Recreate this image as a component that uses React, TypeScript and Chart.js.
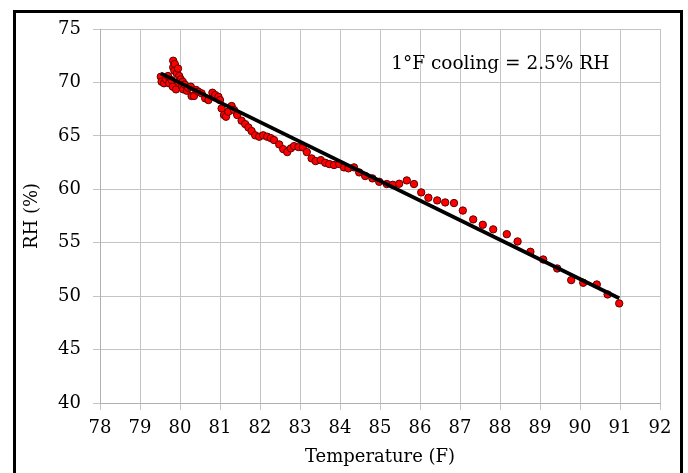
import React, { useEffect, useRef } from 'react';
import { Chart, registerables } from 'chart.js';

Chart.register(...registerables);

// Measured series: temperature (°F) and relative humidity (%)
const temperatureF = [
  79.52, 79.54, 79.6, 79.65, 79.7, 79.73, 79.79, 79.82, 79.83, 79.83, 79.86, 79.87, 79.9, 79.92,
  79.95, 79.98, 79.98, 80.02, 80.05, 80.07, 80.08, 80.12, 80.17, 80.2, 80.27, 80.29, 80.35, 80.4,
  80.46, 80.54, 80.63, 80.71, 80.81, 80.88, 80.96, 81.0, 81.04, 81.1, 81.15, 81.21, 81.29, 81.35,
  81.43, 81.54, 81.63, 81.71, 81.79, 81.88, 81.98, 82.08, 82.18, 82.27, 82.35, 82.48, 82.58, 82.68,
  82.77, 82.85, 82.96, 83.07, 83.17, 83.29, 83.39, 83.52, 83.63, 83.73, 83.85, 83.98, 84.1, 84.21,
  84.35, 84.48, 84.63, 84.81, 84.98, 85.17, 85.32, 85.48, 85.67, 85.85, 86.03, 86.21, 86.43, 86.63,
  86.85, 87.07, 87.33, 87.57, 87.83, 88.17, 88.44, 88.76, 89.08, 89.43, 89.78, 90.08, 90.42, 90.69,
  90.98,
];
const rhPercent = [
  70.53, 70.07, 69.92, 70.29, 70.6, 69.92, 70.22, 69.6, 72.03, 71.41, 71.1, 71.72, 69.35, 70.85,
  71.3, 70.6, 69.92, 70.29, 69.6, 70.07, 69.35, 69.8, 69.22, 69.5, 69.6, 68.73, 68.73, 69.3,
  69.13, 68.98, 68.51, 68.35, 69.04, 68.82, 68.66, 68.35, 67.57, 66.95, 66.79, 67.26, 67.79, 67.42,
  66.95, 66.42, 66.1, 65.79, 65.45, 65.05, 64.92, 65.05, 64.92, 64.79, 64.61, 64.2, 63.76, 63.48,
  63.83, 64.04, 63.95, 63.92, 63.48, 62.89, 62.64, 62.73, 62.48, 62.36, 62.27, 62.36, 62.05, 61.96,
  62.05, 61.58, 61.24, 61.02, 60.7, 60.49, 60.42, 60.52, 60.83, 60.49, 59.71, 59.21, 58.96, 58.77,
  58.71, 58.01, 57.18, 56.68, 56.25, 55.8, 55.12, 54.15, 53.43, 52.59, 51.5, 51.25, 51.09, 50.16,
  49.32,
];

// Linear trend line endpoints
const trendTemperatureF = [79.52, 90.98];
const trendRh = [70.85, 49.8];

const xMin = 78;
const xMax = 92;
const yMin = 40;
const yMax = 75;
const yStep = 5;

const xTitle = 'Temperature (F)';
const yTitle = 'RH (%)';
const annotationText = '1°F cooling = 2.5% RH';
const annotationAt = { x: 85.28, y: 71.3 };

const FONT = '"DejaVu Serif", "Liberation Serif", serif';

export default function App() {
  const ref = useRef<HTMLCanvasElement | null>(null);

  useEffect(() => {
    const canvas = ref.current;
    if (!canvas) return;

    const annotationPlugin = {
      id: 'annotationText',
      afterDatasetsDraw(chart: any) {
        const { ctx, scales } = chart;
        const px = scales.x.getPixelForValue(annotationAt.x);
        const py = scales.y.getPixelForValue(annotationAt.y);
        ctx.save();
        ctx.font = `18.5px ${FONT}`;
        ctx.fillStyle = '#000';
        ctx.textAlign = 'left';
        ctx.textBaseline = 'alphabetic';
        ctx.fillText(annotationText, px, py);
        ctx.restore();
      },
    };

    const chart = new Chart(canvas, {
      type: 'scatter',
      data: {
        datasets: [
          {
            type: 'line',
            label: 'Trend',
            data: trendTemperatureF.map((t, i) => ({ x: t, y: trendRh[i] })),
            borderColor: '#000',
            borderWidth: 3.8,
            pointRadius: 0,
            fill: false,
            showLine: true,
          } as any,
          {
            label: 'RH',
            data: temperatureF.map((t, i) => ({ x: t, y: rhPercent[i] })),
            backgroundColor: '#ff0000',
            borderColor: '#5c0000',
            borderWidth: 1,
            pointRadius: 3.7,
          },
        ],
      },
      options: {
        responsive: false,
        animation: false,
        devicePixelRatio: 1,
        layout: { padding: { left: 0, top: 29, right: 28, bottom: 0 } },
        plugins: {
          legend: { display: false },
          tooltip: { enabled: false },
        },
        scales: {
          x: {
            type: 'linear',
            min: xMin,
            max: xMax,
            afterFit: (s: any) => {
              s.height = 70;
            },
            ticks: {
              stepSize: 1,
              color: '#000',
              font: { family: FONT, size: 18 },
              padding: 8,
              maxRotation: 0,
            },
            grid: { color: '#c4c4c4', lineWidth: 1, tickLength: 7 },
            border: { color: '#b0b0b0' },
            title: {
              display: true,
              text: xTitle,
              color: '#000',
              font: { family: FONT, size: 18 },
              padding: { top: 0, bottom: 5 },
            },
          },
          y: {
            type: 'linear',
            min: yMin,
            max: yMax,
            afterFit: (s: any) => {
              s.width = 100;
            },
            ticks: {
              stepSize: yStep,
              color: '#000',
              font: { family: FONT, size: 18 },
              padding: 12,
            },
            grid: { color: '#c4c4c4', lineWidth: 1, tickLength: 7 },
            border: { color: '#b0b0b0' },
            title: {
              display: true,
              text: yTitle,
              color: '#000',
              font: { family: FONT, size: 18 },
              padding: { top: 22, bottom: 0 },
            },
          },
        },
      },
      plugins: [annotationPlugin],
    });

    return () => chart.destroy();
  }, []);

  return (
    <div style={{ position: 'fixed', left: 0, top: 0, width: 688, height: 473, background: '#fff', overflow: 'hidden' }}>
      <canvas
        ref={ref}
        width={688}
        height={473}
        style={{ position: 'absolute', left: 0, top: 0, width: 688, height: 473 }}
      />
      <div
        style={{
          position: 'absolute',
          left: 13,
          top: 10,
          width: 670,
          height: 480,
          boxSizing: 'border-box',
          border: '3px solid #000',
          pointerEvents: 'none',
        }}
      />
    </div>
  );
}
